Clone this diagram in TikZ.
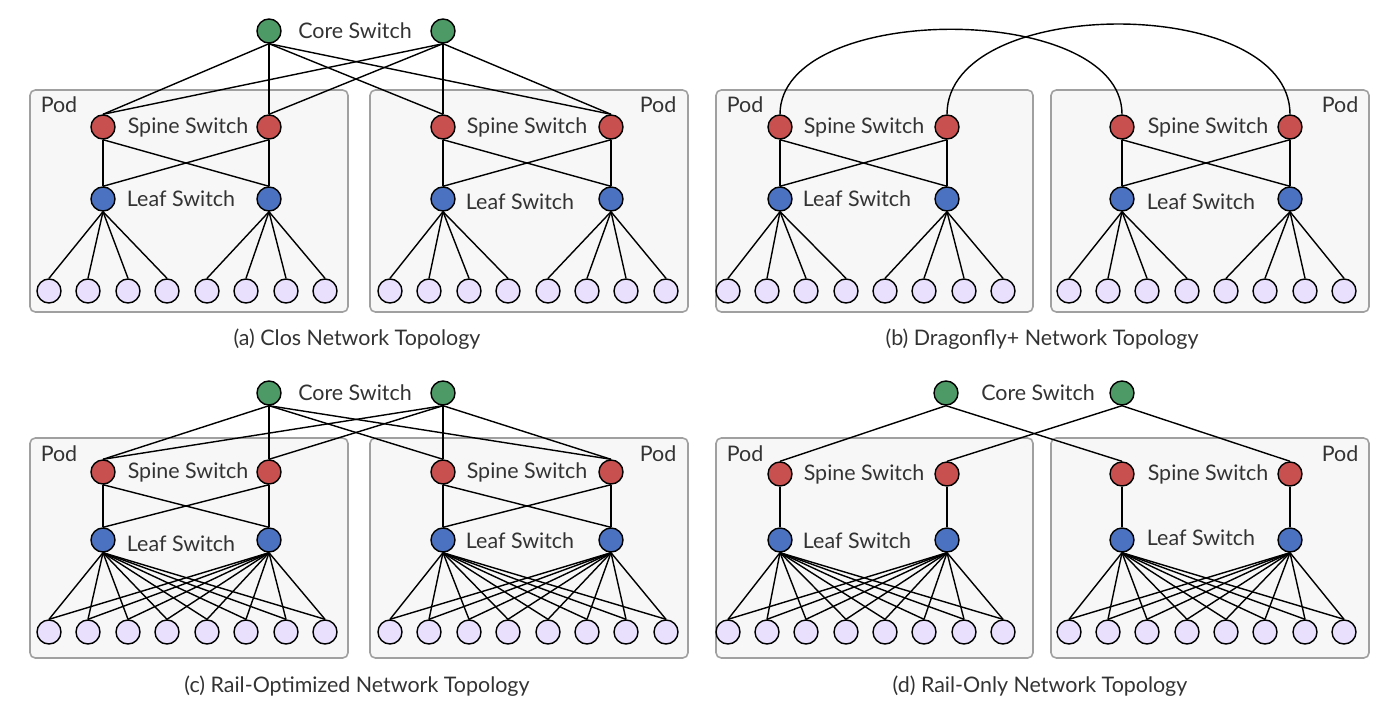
\documentclass[tikz,border=0pt]{standalone}
\usepackage{fontspec}
\setmainfont{Lato}
\definecolor{corecol}{HTML}{4E9A66}
\definecolor{spinecol}{HTML}{C8504F}
\definecolor{leafcol}{HTML}{4A72C0}
\definecolor{hostcol}{HTML}{E8E0FC}
\definecolor{podfill}{HTML}{F7F7F7}
\definecolor{podline}{HTML}{A0A0A0}
\definecolor{txtcol}{HTML}{333333}
\tikzset{
  sw/.style={circle, draw=black, line width=0.8pt, minimum size=0.48cm, inner sep=0pt},
  core/.style={sw, fill=corecol},
  spine/.style={sw, fill=spinecol},
  leaf/.style={sw, fill=leafcol},
  host/.style={sw, fill=hostcol},
  pod/.style={draw=podline, fill=podfill, rounded corners=3pt, line width=0.9pt},
  lbl/.style={text=txtcol, inner sep=0pt, font=\fontsize{12.2}{14}\selectfont},
  link/.style={line width=0.8pt},
}
\begin{document}
\begin{tikzpicture}[x=0.02cm, y=-0.02cm]
  \useasboundingbox (0,0) rectangle (1392,713);

  % (a) Clos
  \draw[pod] (30,90) rectangle (348,312);
  \draw[pod] (370,90) rectangle (688,312);
  \node[core] (a-c1) at (269,31) {};
  \node[core] (a-c2) at (443,31) {};
  \node[lbl] (a-ct) at (355,31) {Core Switch};
  \foreach \x [count=\i] in {103,269,443,611} {
    \node[spine] (a-s\i) at (\x,127) {};
    \node[leaf] (a-l\i) at (\x,199) {};
  }
  \foreach \x [count=\i] in {49,88,128,167,207,246,286,325,390,429,469,508,548,587,626,666}
    \node[host] (a-h\i) at (\x,291) {};
  \node[lbl] (a-p1) at (59,105) {Pod};
  \node[lbl] (a-p2) at (658,105) {Pod};
  \node[lbl] (a-st1) at (188,127) {Spine Switch};
  \node[lbl] (a-st2) at (527,127) {Spine Switch};
  \node[lbl] (a-lt1) at (181,199) {Leaf Switch};
  \node[lbl] (a-lt2) at (520,202) {Leaf Switch};
  \node[lbl] (a-cap) at (357,339) {(a) Clos Network Topology};
  \foreach \c in {1,2}
    \foreach \s in {1,...,4}
      \draw[link] (a-c\c.south) -- (a-s\s.north);
  \foreach \s/\l in {1/1,1/2,2/1,2/2,3/3,3/4,4/3,4/4}
    \draw[link] (a-s\s.south) -- (a-l\l.north);
  \foreach \l in {1,...,4}
    \foreach \k in {1,...,4} {
      \pgfmathtruncatemacro\h{4*(\l-1)+\k}
      \draw[link] (a-l\l.south) -- (a-h\h.north);
    }

  % (b) Dragonfly+
  \draw[pod] (716,90) rectangle (1033,312);
  \draw[pod] (1051,90) rectangle (1369,312);
  \foreach \x [count=\i] in {780,947,1122,1290} {
    \node[spine] (b-s\i) at (\x,127) {};
    \node[leaf] (b-l\i) at (\x,199) {};
  }
  \foreach \x [count=\i] in {728,767,806,846,885,924,964,1003,1069,1108,1147,1187,1226,1265,1305,1344}
    \node[host] (b-h\i) at (\x,291) {};
  \node[lbl] (b-p1) at (745,105) {Pod};
  \node[lbl] (b-p2) at (1340,105) {Pod};
  \node[lbl] (b-st1) at (864,127) {Spine Switch};
  \node[lbl] (b-st2) at (1208,127) {Spine Switch};
  \node[lbl] (b-lt1) at (857,199) {Leaf Switch};
  \node[lbl] (b-lt2) at (1201,202) {Leaf Switch};
  \node[lbl] (b-cap) at (1042,339) {(b) Dragonfly+ Network Topology};
  \draw[link] (b-s1) to[out=90, in=90, looseness=0.85] (b-s3);
  \draw[link] (b-s2) to[out=90, in=90, looseness=0.9] (b-s4);
  \foreach \s/\l in {1/1,1/2,2/1,2/2,3/3,3/4,4/3,4/4}
    \draw[link] (b-s\s.south) -- (b-l\l.north);
  \foreach \l in {1,...,4}
    \foreach \k in {1,...,4} {
      \pgfmathtruncatemacro\h{4*(\l-1)+\k}
      \draw[link] (b-l\l.south) -- (b-h\h.north);
    }

  % (c) Rail-Optimized
  \draw[pod] (30,438) rectangle (348,658);
  \draw[pod] (370,438) rectangle (688,658);
  \node[core] (c-c1) at (269,393) {};
  \node[core] (c-c2) at (443,393) {};
  \node[lbl] (c-ct) at (355,393) {Core Switch};
  \foreach \x [count=\i] in {103,269,443,611} {
    \node[spine] (c-s\i) at (\x,472) {};
    \node[leaf] (c-l\i) at (\x,540) {};
  }
  \foreach \x [count=\i] in {49,88,128,167,207,246,286,325,390,429,469,508,548,587,626,666}
    \node[host] (c-h\i) at (\x,632) {};
  \node[lbl] (c-p1) at (59,454) {Pod};
  \node[lbl] (c-p2) at (658,454) {Pod};
  \node[lbl] (c-st1) at (188,472) {Spine Switch};
  \node[lbl] (c-st2) at (527,472) {Spine Switch};
  \node[lbl] (c-lt1) at (181,544) {Leaf Switch};
  \node[lbl] (c-lt2) at (520,541) {Leaf Switch};
  \node[lbl] (c-cap) at (357,686) {(c) Rail-Optimized Network Topology};
  \foreach \c in {1,2}
    \foreach \s in {1,...,4}
      \draw[link] (c-c\c.south) -- (c-s\s.north);
  \foreach \s/\l in {1/1,1/2,2/1,2/2,3/3,3/4,4/3,4/4}
    \draw[link] (c-s\s.south) -- (c-l\l.north);
  \foreach \l in {1,...,4}
    \foreach \k in {1,...,8} {
      \pgfmathtruncatemacro\h{8*int((\l-1)/2)+\k}
      \draw[link] (c-l\l.south) -- (c-h\h.north);
    }

  % (d) Rail-Only
  \draw[pod] (716,438) rectangle (1033,658);
  \draw[pod] (1051,438) rectangle (1369,658);
  \node[core] (d-c1) at (946,393) {};
  \node[core] (d-c2) at (1122,393) {};
  \node[lbl] (d-ct) at (1038,393) {Core Switch};
  \foreach \x [count=\i] in {780,947,1122,1290} {
    \node[spine] (d-s\i) at (\x,474) {};
    \node[leaf] (d-l\i) at (\x,540) {};
  }
  \foreach \x [count=\i] in {728,767,806,846,885,924,964,1003,1069,1108,1147,1187,1226,1265,1305,1344}
    \node[host] (d-h\i) at (\x,632) {};
  \node[lbl] (d-p1) at (745,454) {Pod};
  \node[lbl] (d-p2) at (1340,454) {Pod};
  \node[lbl] (d-st1) at (864,474) {Spine Switch};
  \node[lbl] (d-st2) at (1208,474) {Spine Switch};
  \node[lbl] (d-lt1) at (857,541) {Leaf Switch};
  \node[lbl] (d-lt2) at (1201,538) {Leaf Switch};
  \node[lbl] (d-cap) at (1040,686) {(d) Rail-Only Network Topology};
  \foreach \c/\s in {1/1,1/3,2/2,2/4}
    \draw[link] (d-c\c.south) -- (d-s\s.north);
  \foreach \s in {1,...,4}
    \draw[link] (d-s\s.south) -- (d-l\s.north);
  \foreach \l in {1,...,4}
    \foreach \k in {1,...,8} {
      \pgfmathtruncatemacro\h{8*int((\l-1)/2)+\k}
      \draw[link] (d-l\l.south) -- (d-h\h.north);
    }
\end{tikzpicture}
\end{document}
